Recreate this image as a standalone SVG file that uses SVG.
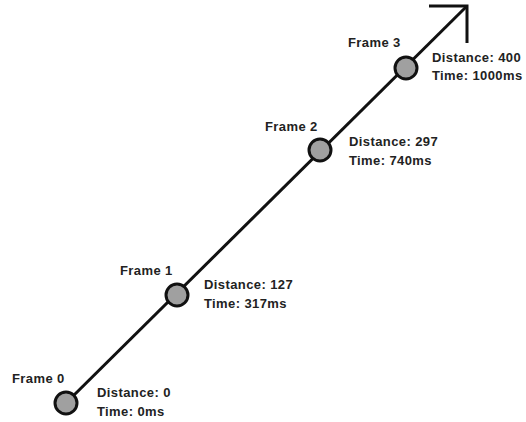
<svg xmlns="http://www.w3.org/2000/svg" width="526" height="422" viewBox="0 0 526 422">
<style>
.conn{stroke:#111;stroke-width:3;fill:none;stroke-linecap:butt}
.node{fill:#a0a0a0;stroke:#111;stroke-width:3}
.lbl{font-family:"Liberation Sans",Arial,sans-serif;font-size:13px;font-weight:bold;fill:#222;letter-spacing:0.4px}
</style>
<rect width="526" height="422" fill="#fff"/>
<g id="connectors">
<path class="conn" d="M66,403 L467,6"/>
<path class="conn" d="M429,6 L467,6 L467,43"/>
</g>
<g id="frame0">
<circle class="node" cx="66" cy="403" r="11"/>
<text class="lbl" x="12" y="383">Frame 0</text>
<text class="lbl" x="97" y="397">Distance: 0</text>
<text class="lbl" x="97" y="416">Time: 0ms</text>
</g>
<g id="frame1">
<circle class="node" cx="177" cy="295" r="11"/>
<text class="lbl" x="120" y="275">Frame 1</text>
<text class="lbl" x="204" y="289">Distance: 127</text>
<text class="lbl" x="204" y="308">Time: 317ms</text>
</g>
<g id="frame2">
<circle class="node" cx="320" cy="150" r="11"/>
<text class="lbl" x="265" y="131">Frame 2</text>
<text class="lbl" x="349" y="146">Distance: 297</text>
<text class="lbl" x="349" y="165">Time: 740ms</text>
</g>
<g id="frame3">
<circle class="node" cx="406" cy="68" r="11"/>
<text class="lbl" x="348" y="47">Frame 3</text>
<text class="lbl" x="432" y="62">Distance: 400</text>
<text class="lbl" x="432" y="80">Time: 1000ms</text>
</g>
</svg>
